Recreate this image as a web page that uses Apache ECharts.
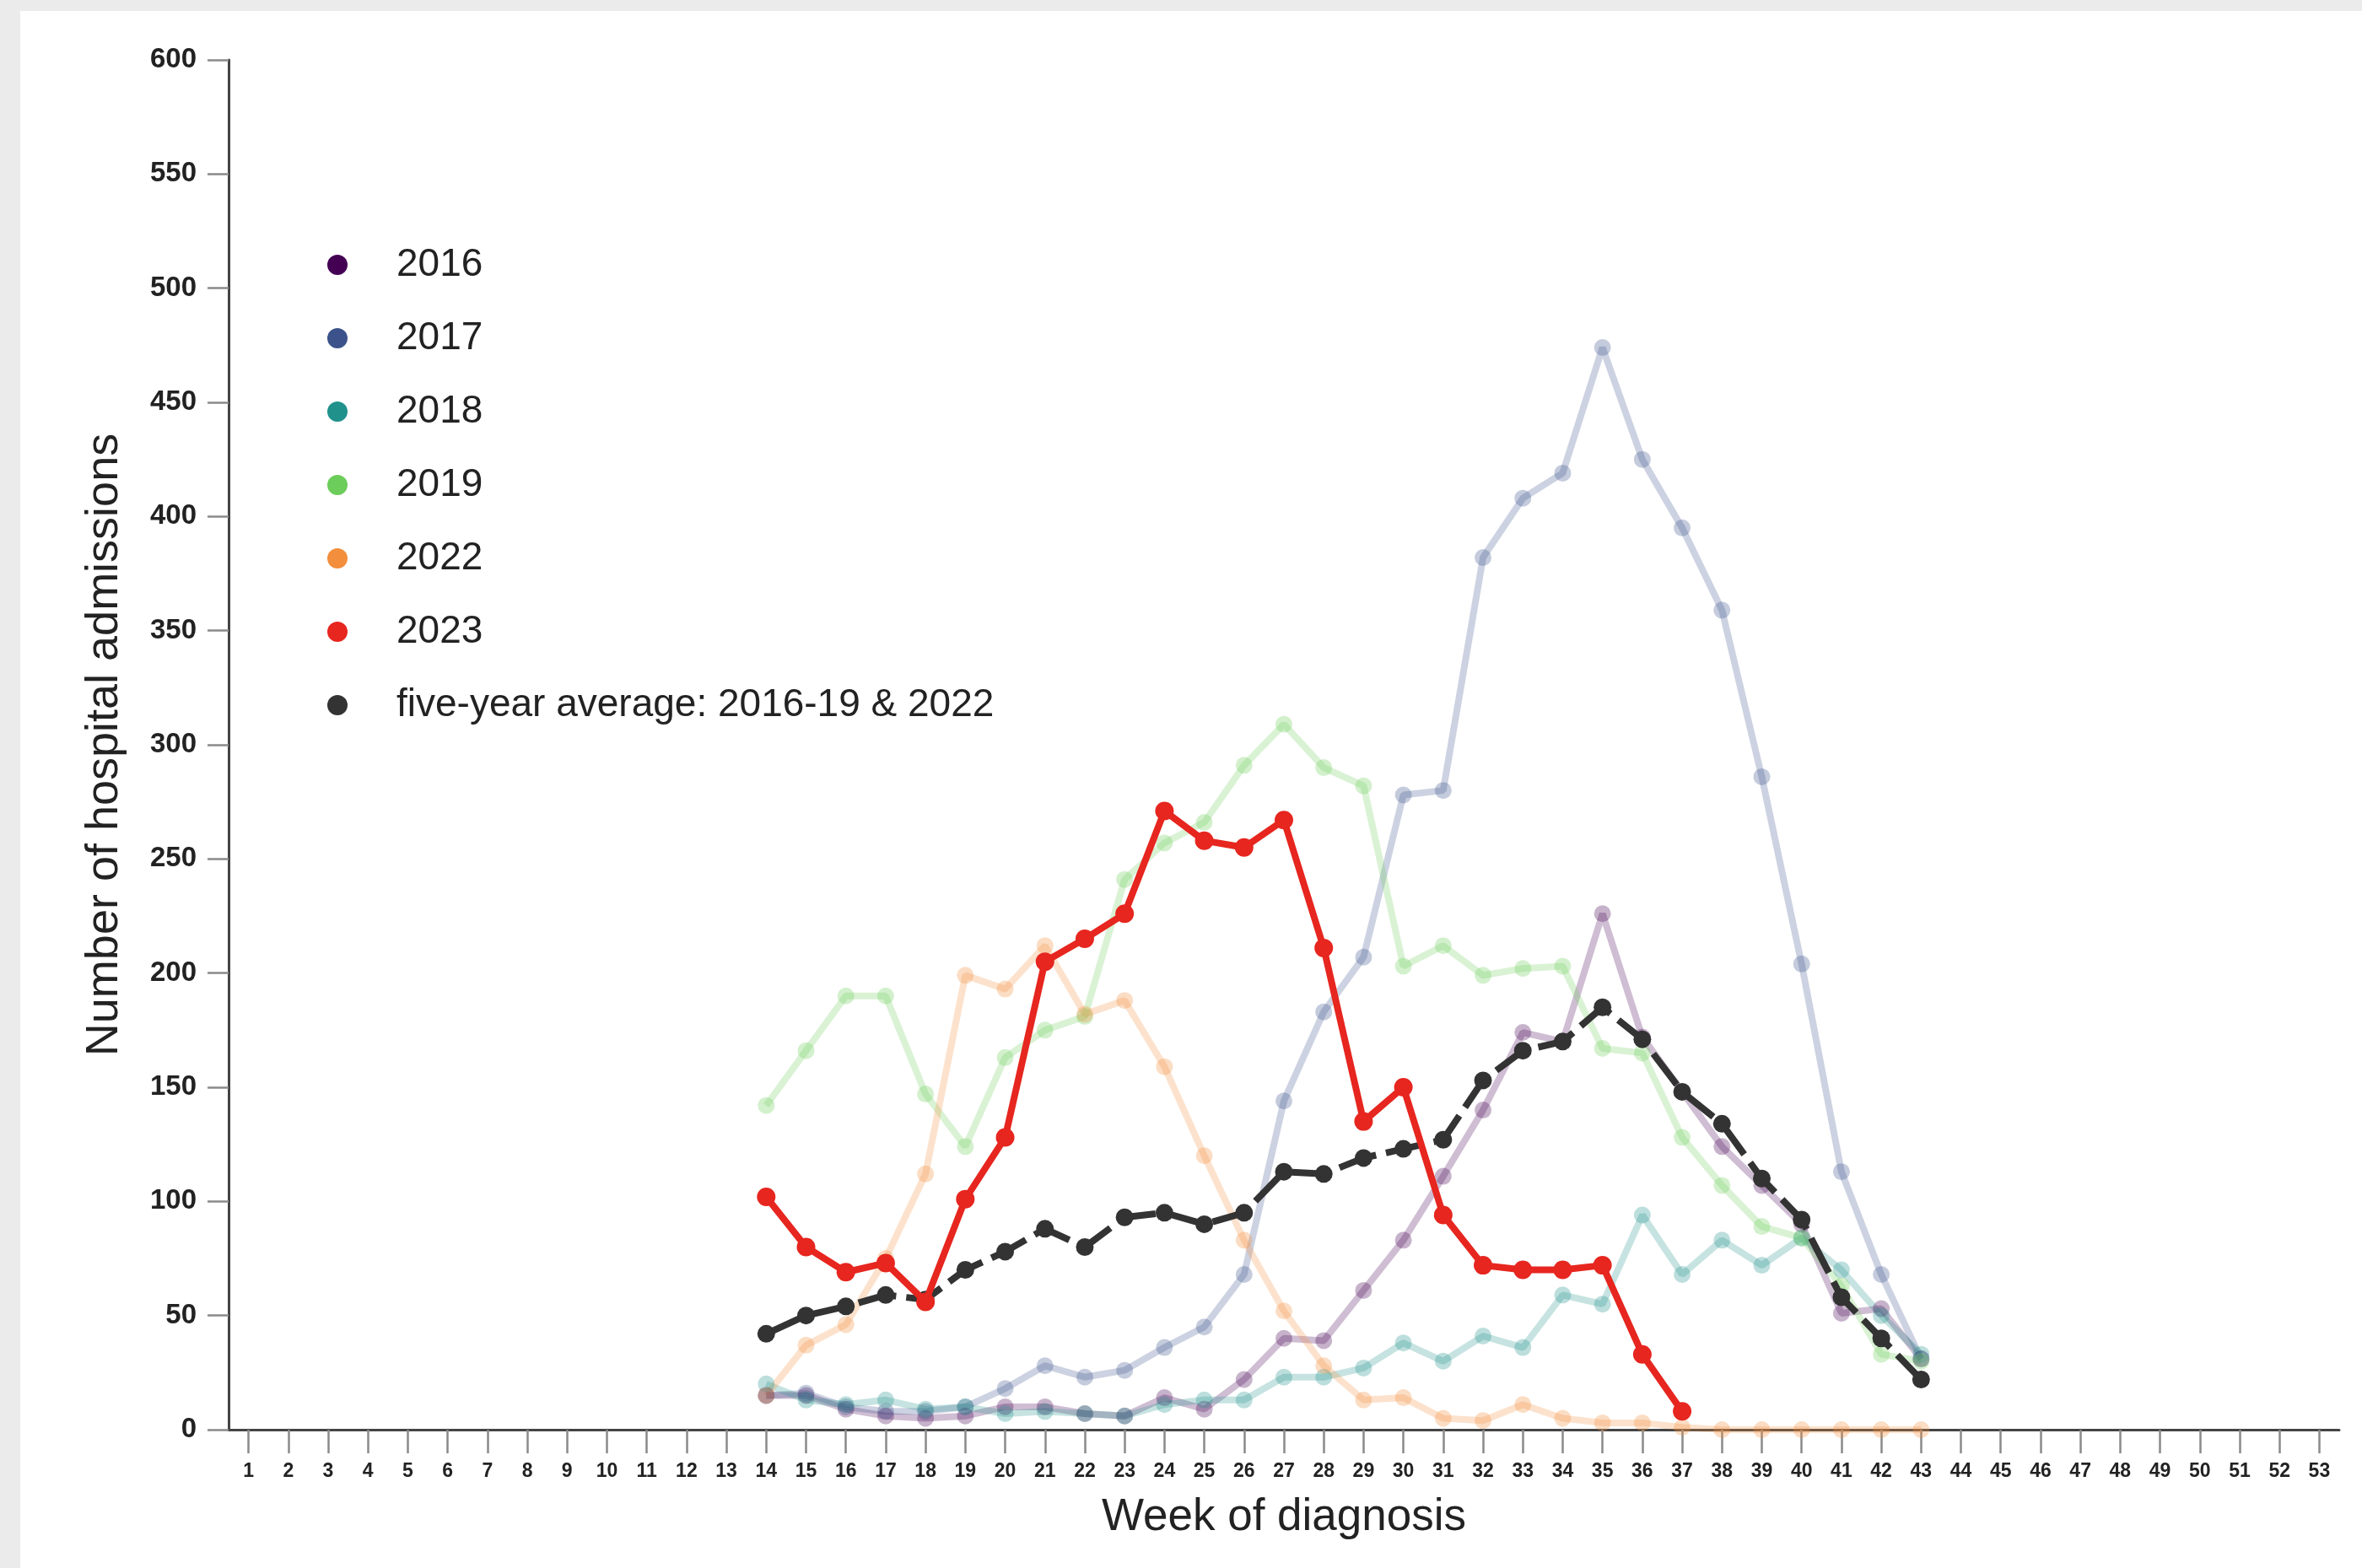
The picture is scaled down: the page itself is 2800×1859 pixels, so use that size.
<!DOCTYPE html>
<html>
<head>
<meta charset="utf-8">
<script src="https://cdn.jsdelivr.net/npm/echarts@6/dist/echarts.min.js"></script>
<style>
  html, body { margin: 0; padding: 0; width: 2800px; height: 1859px; background: #ebebeb; overflow: hidden; }
  #card { position: absolute; left: 24px; top: 13px; right: 0; bottom: 0; background: #ffffff; }
  #chart { position: absolute; left: 0; top: 0; width: 2800px; height: 1859px; }
</style>
</head>
<body>
<div id="card"></div>
<div id="chart"></div>
<script>
// ---- data (weekly hospital admissions, starting at week 14) ----
const weeks = Array.from({length: 53}, (_, i) => String(i + 1));
const firstWeek = 14;

const y2016 = [15, 15, 9, 6, 5, 6, 10, 10, 7, 6, 14, 9, 22, 40, 39, 61, 83, 111, 140, 174, 170, 226, 172, 148, 124, 107, 90, 51, 53, 31];
const y2017 = [15, 16, 10, 8, 8, 10, 18, 28, 23, 26, 36, 45, 68, 144, 183, 207, 278, 280, 382, 408, 419, 474, 425, 395, 359, 286, 204, 113, 68, 31];
const y2018 = [20, 13, 11, 13, 9, 10, 7, 8, 7, 6, 11, 13, 13, 23, 23, 27, 38, 30, 41, 36, 59, 55, 94, 68, 83, 72, 84, 70, 50, 33];
const y2019 = [142, 166, 190, 190, 147, 124, 163, 175, 181, 241, 257, 266, 291, 309, 290, 282, 203, 212, 199, 202, 203, 167, 165, 128, 107, 89, 84, 63, 33, 30];
const y2022 = [15, 37, 46, 75, 112, 199, 193, 212, 182, 188, 159, 120, 83, 52, 28, 13, 14, 5, 4, 11, 5, 3, 3, 1, 0, 0, 0, 0, 0, 0];
const y2023 = [102, 80, 69, 73, 56, 101, 128, 205, 215, 226, 271, 258, 255, 267, 211, 135, 150, 94, 72, 70, 70, 72, 33, 8];
const avg = [42, 50, 54, 59, 57, 70, 78, 88, 80, 93, 95, 90, 95, 113, 112, 119, 123, 127, 153, 166, 170, 185, 171, 148, 134, 110, 92, 58, 40, 22];

const yTicks = { min: 0, max: 600, interval: 50 };

const names = ['2016', '2017', '2018', '2019', '2022', '2023', 'five-year average: 2016-19 & 2022'];
const colors = {
  '2016': '#440154', '2017': '#3b528b', '2018': '#21918c', '2019': '#6ccd5a',
  '2022': '#f28e3c', '2023': '#e6261f', 'five-year average: 2016-19 & 2022': '#333333'
};

function toPairs(arr) {
  return arr.map((v, i) => [String(firstWeek + i), v]);
}

function faded(name, arr) {
  return {
    name: name, type: 'line', data: toPairs(arr),
    symbol: 'circle', symbolSize: 20, showSymbol: true,
    lineStyle: { color: colors[name], width: 8, opacity: 0.26 },
    itemStyle: { color: colors[name], opacity: 0.3 },
    z: 2, silent: true
  };
}

const series = [
  faded('2016', y2016),
  faded('2017', y2017),
  faded('2018', y2018),
  faded('2019', y2019),
  faded('2022', y2022),
  {
    name: 'five-year average: 2016-19 & 2022', type: 'line', data: toPairs(avg),
    symbol: 'circle', symbolSize: 21, showSymbol: true,
    lineStyle: { color: colors['five-year average: 2016-19 & 2022'], width: 8, type: [46, 12] },
    itemStyle: { color: colors['five-year average: 2016-19 & 2022'] },
    z: 4
  },
  {
    name: '2023', type: 'line', data: toPairs(y2023),
    symbol: 'circle', symbolSize: 22, showSymbol: true,
    lineStyle: { color: colors['2023'], width: 8 },
    itemStyle: { color: colors['2023'] },
    z: 5
  }
];

const chart = echarts.init(document.getElementById('chart'), null, { renderer: 'canvas', width: 2800, height: 1859 });
chart.setOption({
  animation: false,
  backgroundColor: 'transparent',
  textStyle: { fontFamily: 'Liberation Sans, Arial, sans-serif' },
  grid: { left: 271, right: 27, top: 71, bottom: 164, containLabel: false },
  legend: {
    orient: 'vertical', left: 383, top: 286, itemGap: 41,
    icon: 'circle', itemWidth: 130, itemHeight: 24,
    selectedMode: false,
    textStyle: { fontSize: 46, color: '#222222', fontFamily: 'Liberation Sans, Arial, sans-serif' },
    data: names.map(n => ({ name: n, itemStyle: { color: colors[n], opacity: 1 } }))
  },
  xAxis: {
    type: 'category', data: weeks, boundaryGap: true,
    name: 'Week of diagnosis', nameLocation: 'middle', nameGap: 78,
    nameTextStyle: { fontSize: 53, color: '#222222', fontFamily: 'Liberation Sans, Arial, sans-serif' },
    axisLine: { show: true, lineStyle: { color: '#444444', width: 3 } },
    axisTick: { show: true, alignWithLabel: true, interval: 0, length: 28, lineStyle: { color: '#8a8a8a', width: 2.5 } },
    axisLabel: { interval: 0, margin: 38, fontSize: 23, fontWeight: 'bold', color: '#222222' },
    splitLine: { show: false }
  },
  yAxis: {
    type: 'value', min: yTicks.min, max: yTicks.max, interval: yTicks.interval,
    name: 'Number of hospital admissions', nameLocation: 'middle', nameGap: 120, nameRotate: 90,
    nameTextStyle: { fontSize: 54, color: '#222222', fontFamily: 'Liberation Sans, Arial, sans-serif' },
    axisLine: { show: true, lineStyle: { color: '#444444', width: 3 } },
    axisTick: { show: true, length: 25, lineStyle: { color: '#8a8a8a', width: 2.5 } },
    axisLabel: { margin: 38, fontSize: 33, fontWeight: 'bold', color: '#222222' },
    splitLine: { show: false }
  },
  series: series
});
</script>
</body>
</html>
